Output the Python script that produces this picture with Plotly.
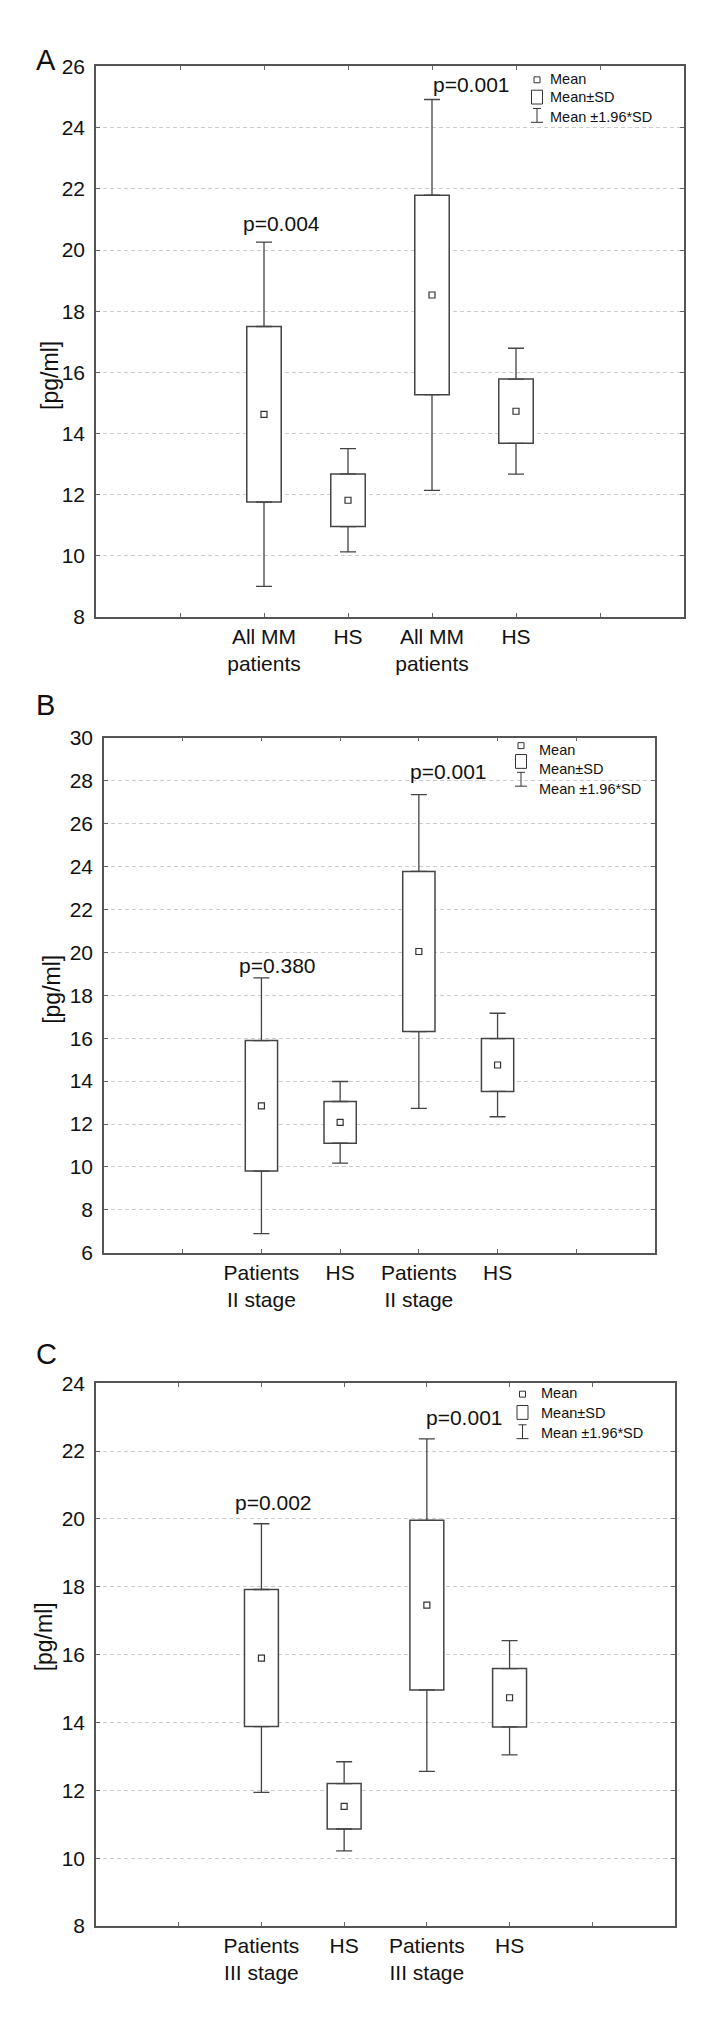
import plotly.graph_objects as go

W, H = 720, 2018
FONT = "Liberation Sans, Arial, sans-serif"

# ---- data ----
positions = [2, 3, 4, 5]

cats_a  = ["All MM<br>patients", "HS", "All MM<br>patients", "HS"]
mean_a  = [14.63, 11.82, 18.53, 14.73]
sd_a    = [2.87, 0.86, 3.26, 1.05]
pvals_a = ["p=0.004", "p=0.001"]

cats_b  = ["Patients<br>II stage", "HS", "Patients<br>II stage", "HS"]
mean_b  = [12.85, 12.08, 20.04, 14.75]
sd_b    = [3.04, 0.97, 3.73, 1.23]
pvals_b = ["p=0.380", "p=0.001"]

cats_c  = ["Patients<br>III stage", "HS", "Patients<br>III stage", "HS"]
mean_c  = [15.90, 11.53, 17.46, 14.73]
sd_c    = [2.02, 0.67, 2.50, 0.86]
pvals_c = ["p=0.002", "p=0.001"]

yranges = [[8, 26], [6, 30], [8, 24]]
letters = ["A", "B", "C"]

# ---- layout of the three panels, in pixels ----
frames = [(88, 676, 47, 604), (96, 647, 726, 1247), (88, 667, 1379, 1928)]
letter_y = [40, 693, 1349]
ytitle_xy = [(42, 360), (44, 981), (36, 1636)]
p_dx = [(0.21, 0.47), (0.21, 0.38), (0.14, 0.45)]
p_dy = [(5, 2), (-1, 10), (8, 8)]
# legend: glyph centre x, text x, row centres (square, box, whisker), text row centres
legends = [
    (529, 540, (60.5, 78, 96.5), (60, 78, 98)),
    (513, 529, (734, 750, 768), (738, 758, 778)),
    (514.5, 531, (1390, 1408.5, 1428), (1389, 1409, 1429)),
]

LINE = "#444444"


def fx(p):
    return p / W


def fy(p):
    return 1 - p / H


fig = go.Figure()
shapes, annotations = [], []
panels = [(cats_a, mean_a, sd_a, pvals_a), (cats_b, mean_b, sd_b, pvals_b), (cats_c, mean_c, sd_c, pvals_c)]

for i, (cats, means, sds, pvals) in enumerate(panels):
    n = i + 1
    xa, ya = ("x", "y") if n == 1 else (f"x{n}", f"y{n}")
    lo = [m - s for m, s in zip(means, sds)]
    hi = [m + s for m, s in zip(means, sds)]
    ext = [1.96 * s - s for s in sds]

    # Mean +- SD boxes
    fig.add_trace(go.Bar(
        x=positions, base=lo, y=[2 * s for s in sds], width=0.41,
        marker=dict(color="white", line=dict(color=LINE, width=1.5)),
        xaxis=xa, yaxis=ya,
    ))
    # Mean +- 1.96*SD whiskers, drawn from the box edges outward
    fig.add_trace(go.Scatter(
        x=positions + positions, y=hi + lo, mode="markers",
        marker=dict(size=1, color="rgba(0,0,0,0)"),
        error_y=dict(type="data", symmetric=False,
                     array=ext + [0] * 4, arrayminus=[0] * 4 + ext,
                     width=8, thickness=1.3, color=LINE),
        xaxis=xa, yaxis=ya,
    ))
    # Means
    fig.add_trace(go.Scatter(
        x=positions, y=means, mode="markers",
        marker=dict(symbol="square", size=6, color="white", line=dict(color="#333", width=1.2)),
        xaxis=xa, yaxis=ya,
    ))

    x0, x1, y0, y1 = frames[i]
    common = dict(showline=True, linecolor="#555", linewidth=1.5, mirror="ticks",
                  ticks="inside", ticklen=4, tickcolor="#666")
    fig.update_layout({
        f"xaxis{'' if n == 1 else n}": dict(
            domain=[fx(x0), fx(x1)], anchor=ya, range=[0, 7],
            tickvals=[1, 2, 3, 4, 5, 6], ticktext=[""] + cats + [""],
            showgrid=False, zeroline=False,
            tickfont=dict(family=FONT, size=21, color="#111"), **common,
        ),
        f"yaxis{'' if n == 1 else n}": dict(
            domain=[fy(y1), fy(y0)], anchor=xa, range=yranges[i], dtick=2,
            showgrid=True, gridcolor="#cccccc", griddash="4px,3px", gridwidth=1,
            zeroline=False, ticklabelstandoff=5,
            tickfont=dict(family=FONT, size=21, color="#111"), **common,
        ),
    })

    # panel letter and y title
    annotations.append(dict(text=letters[i], x=fx(26), y=fy(letter_y[i]), xref="paper", yref="paper",
                            xanchor="left", yanchor="middle", showarrow=False,
                            font=dict(family=FONT, size=29, color="#111")))
    tx, ty = ytitle_xy[i]
    annotations.append(dict(text="[pg/ml]", x=fx(tx), y=fy(ty), xref="paper", yref="paper",
                            textangle=-90, xanchor="center", yanchor="middle", showarrow=False,
                            font=dict(family=FONT, size=23, color="#111")))

    # p-values above the patient groups
    for k, idx in enumerate([0, 2]):
        annotations.append(dict(text=pvals[k], x=positions[idx] + p_dx[i][k], y=means[idx] + 1.96 * sds[idx],
                                xref=xa, yref=ya, xanchor="center", yanchor="bottom",
                                yshift=p_dy[i][k], showarrow=False,
                                font=dict(family=FONT, size=21, color="#111")))

    # legend glyphs
    gx, ltx, rows, trows = legends[i]
    shapes.append(dict(type="rect", xref="paper", yref="paper",
                       x0=fx(gx - 3), x1=fx(gx + 3), y0=fy(rows[0] + 3), y1=fy(rows[0] - 3),
                       line=dict(color="#333", width=1)))
    shapes.append(dict(type="rect", xref="paper", yref="paper",
                       x0=fx(gx - 5.5), x1=fx(gx + 5.5), y0=fy(rows[1] + 7), y1=fy(rows[1] - 7),
                       line=dict(color="#333", width=1)))
    for path in [(gx, rows[2] - 7, gx, rows[2] + 7), (gx - 4, rows[2] - 7, gx + 4, rows[2] - 7),
                 (gx - 6, rows[2] + 7, gx + 6, rows[2] + 7)]:
        shapes.append(dict(type="line", xref="paper", yref="paper",
                           x0=fx(path[0]), y0=fy(path[1]), x1=fx(path[2]), y1=fy(path[3]),
                           line=dict(color="#333", width=1)))
    for label, yy in zip(["Mean", "Mean±SD", "Mean ±1.96*SD"], trows):
        annotations.append(dict(text=label, x=fx(ltx), y=fy(yy), xref="paper", yref="paper",
                                xanchor="left", yanchor="middle", showarrow=False,
                                font=dict(family=FONT, size=14.5, color="#111")))

fig.update_layout(
    width=W, height=H,
    margin=dict(l=0, r=0, t=0, b=0),
    paper_bgcolor="white", plot_bgcolor="white",
    showlegend=False, barmode="overlay",
    shapes=shapes, annotations=annotations,
)

fig.write_html("out.html")
